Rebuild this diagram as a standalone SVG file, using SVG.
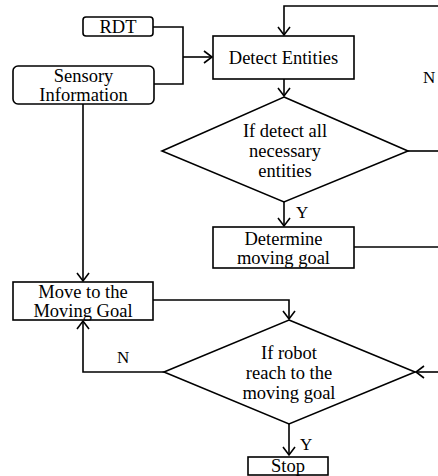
<svg xmlns="http://www.w3.org/2000/svg" width="438" height="476" viewBox="0 0 438 476">
  <style>
    .box { fill: #fff; stroke: #000; stroke-width: 1.6; }
    .line { fill: none; stroke: #000; stroke-width: 1.6; }
    .txt { font-family: "Liberation Serif", "Times New Roman", serif; font-size: 18.5px; fill: #000; text-anchor: middle; }
    .lbl { font-family: "Liberation Serif", "Times New Roman", serif; font-size: 17px; fill: #000; }
  </style>
  <defs>
    <marker id="arrow" viewBox="-10 -7 12 14" refX="0" refY="0" markerWidth="12" markerHeight="14" markerUnits="userSpaceOnUse" orient="auto">
      <path d="M-8,-6 L0,0 L-8,6" fill="none" stroke="#000" stroke-width="1.6"/>
    </marker>
  </defs>
  <rect width="438" height="476" fill="#fff"/>

  <!-- connectors -->
  <g id="connectors">
    <path class="line" d="M153,27 H183 V84 H154"/>
    <path class="line" d="M183,57 H212" marker-end="url(#arrow)"/>
    <path class="line" d="M438,6 H284 V35" marker-end="url(#arrow)"/>
    <path class="line" d="M284,79 V96" marker-end="url(#arrow)"/>
    <path class="line" d="M408,151 H438"/>
    <path class="line" d="M284,202 V226" marker-end="url(#arrow)"/>
    <path class="line" d="M354,247 H438"/>
    <path class="line" d="M83,104 V281" marker-end="url(#arrow)"/>
    <path class="line" d="M153,300 H289 V319" marker-end="url(#arrow)"/>
    <path class="line" d="M438,372 H416" marker-end="url(#arrow)"/>
    <path class="line" d="M164,372 H83 V321" marker-end="url(#arrow)"/>
    <path class="line" d="M289,424 V455" marker-end="url(#arrow)"/>
    <text class="lbl" x="423" y="83">N</text>
    <text class="lbl" x="296" y="218">Y</text>
    <text class="lbl" x="117" y="363">N</text>
    <text class="lbl" x="300" y="450">Y</text>
  </g>

  <g id="rdt">
    <rect class="box" x="83" y="17" width="70" height="19" rx="3"/>
    <text class="txt" x="118" y="33">RDT</text>
  </g>

  <g id="sensory">
    <rect class="box" x="13" y="66" width="141" height="38" rx="5"/>
    <text class="txt" x="83.5" y="82">Sensory</text>
    <text class="txt" x="83.5" y="101">Information</text>
  </g>

  <g id="detect">
    <rect class="box" x="213" y="36" width="141" height="43"/>
    <text class="txt" x="283.5" y="64">Detect Entities</text>
  </g>

  <g id="check-entities">
    <polygon class="box" points="284,97 408,151 284,202 162,151"/>
    <text class="txt" x="285" y="137">If detect all</text>
    <text class="txt" x="285" y="157">necessary</text>
    <text class="txt" x="285" y="177">entities</text>
  </g>

  <g id="determine">
    <rect class="box" x="213" y="227" width="141" height="41"/>
    <text class="txt" x="283.5" y="245">Determine</text>
    <text class="txt" x="283.5" y="264">moving goal</text>
  </g>

  <g id="move">
    <rect class="box" x="13" y="282" width="140" height="38"/>
    <text class="txt" x="83" y="298">Move to the</text>
    <text class="txt" x="83" y="317">Moving Goal</text>
  </g>

  <g id="check-goal">
    <polygon class="box" points="289,320 415,372 289,424 164,372"/>
    <text class="txt" x="289" y="359">If robot</text>
    <text class="txt" x="289" y="379">reach to the</text>
    <text class="txt" x="289" y="399">moving goal</text>
  </g>

  <g id="stop">
    <rect class="box" x="248" y="457" width="80" height="18"/>
    <text class="txt" x="288" y="472">Stop</text>
  </g>
</svg>
